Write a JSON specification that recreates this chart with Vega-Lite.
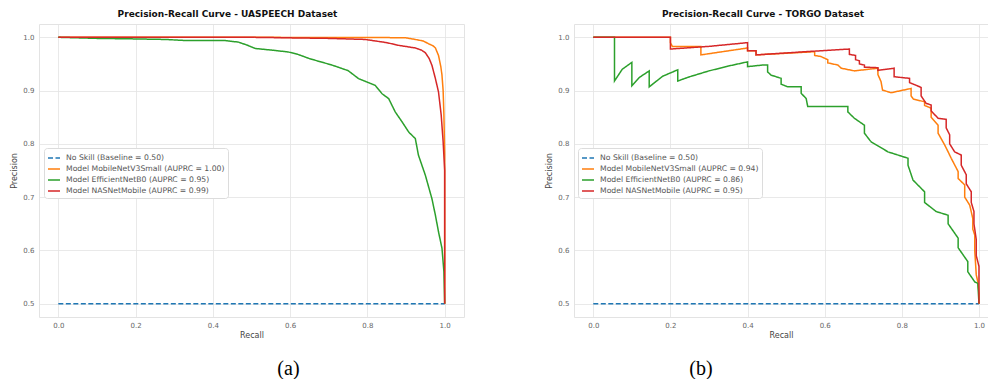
{
  "$schema": "https://vega.github.io/schema/vega-lite/v6.json",
  "background": "white",
  "padding": {"left": 10, "top": 9, "right": 0, "bottom": 0},
  "autosize": {"type": "pad"},
  "datasets": {
    "uasLab": [
      {"m": "N", "label": "No Skill (Baseline = 0.50)"},
      {"m": "M", "label": "Model MobileNetV3Small (AUPRC = 1.00)"},
      {"m": "E", "label": "Model EfficientNetB0 (AUPRC = 0.95)"},
      {"m": "A", "label": "Model NASNetMobile (AUPRC = 0.99)"}
    ],
    "torgoLab": [
      {"m": "N", "label": "No Skill (Baseline = 0.50)"},
      {"m": "M", "label": "Model MobileNetV3Small (AUPRC = 0.94)"},
      {"m": "E", "label": "Model EfficientNetB0 (AUPRC = 0.86)"},
      {"m": "A", "label": "Model NASNetMobile (AUPRC = 0.95)"}
    ],
    "uas": [
      {"m": "N", "r": 0, "p": 0.5}, {"m": "N", "r": 1, "p": 0.5},
      {"m": "M", "r": 0, "p": 1}, {"m": "M", "r": 0.5, "p": 1}, {"m": "M", "r": 0.85, "p": 0.9995}, {"m": "M", "r": 0.9, "p": 0.999}, {"m": "M", "r": 0.924, "p": 0.996}, {"m": "M", "r": 0.945, "p": 0.993}, {"m": "M", "r": 0.958, "p": 0.988}, {"m": "M", "r": 0.97, "p": 0.984}, {"m": "M", "r": 0.976, "p": 0.98}, {"m": "M", "r": 0.984, "p": 0.966}, {"m": "M", "r": 0.99, "p": 0.945}, {"m": "M", "r": 0.993, "p": 0.929}, {"m": "M", "r": 0.996, "p": 0.9}, {"m": "M", "r": 0.998, "p": 0.854}, {"m": "M", "r": 1, "p": 0.78}, {"m": "M", "r": 1, "p": 0.5},
      {"m": "E", "r": 0, "p": 1}, {"m": "E", "r": 0.05, "p": 0.999}, {"m": "E", "r": 0.1, "p": 0.998}, {"m": "E", "r": 0.2, "p": 0.997}, {"m": "E", "r": 0.276, "p": 0.996}, {"m": "E", "r": 0.33, "p": 0.994}, {"m": "E", "r": 0.43, "p": 0.994}, {"m": "E", "r": 0.466, "p": 0.991}, {"m": "E", "r": 0.49, "p": 0.985}, {"m": "E", "r": 0.51, "p": 0.979}, {"m": "E", "r": 0.552, "p": 0.976}, {"m": "E", "r": 0.595, "p": 0.9725}, {"m": "E", "r": 0.62, "p": 0.968}, {"m": "E", "r": 0.65, "p": 0.96}, {"m": "E", "r": 0.708, "p": 0.948}, {"m": "E", "r": 0.75, "p": 0.9375}, {"m": "E", "r": 0.777, "p": 0.9225}, {"m": "E", "r": 0.794, "p": 0.9175}, {"m": "E", "r": 0.82, "p": 0.91}, {"m": "E", "r": 0.838, "p": 0.894}, {"m": "E", "r": 0.855, "p": 0.885}, {"m": "E", "r": 0.872, "p": 0.86}, {"m": "E", "r": 0.89, "p": 0.841}, {"m": "E", "r": 0.907, "p": 0.822}, {"m": "E", "r": 0.924, "p": 0.81}, {"m": "E", "r": 0.932, "p": 0.779}, {"m": "E", "r": 0.95, "p": 0.741}, {"m": "E", "r": 0.967, "p": 0.697}, {"m": "E", "r": 0.976, "p": 0.666}, {"m": "E", "r": 0.984, "p": 0.635}, {"m": "E", "r": 0.993, "p": 0.604}, {"m": "E", "r": 0.998, "p": 0.56}, {"m": "E", "r": 1, "p": 0.5},
      {"m": "A", "r": 0, "p": 1}, {"m": "A", "r": 0.5, "p": 1}, {"m": "A", "r": 0.6, "p": 0.999}, {"m": "A", "r": 0.7, "p": 0.998}, {"m": "A", "r": 0.794, "p": 0.996}, {"m": "A", "r": 0.85, "p": 0.99}, {"m": "A", "r": 0.88, "p": 0.985}, {"m": "A", "r": 0.924, "p": 0.98}, {"m": "A", "r": 0.94, "p": 0.976}, {"m": "A", "r": 0.95, "p": 0.971}, {"m": "A", "r": 0.96, "p": 0.96}, {"m": "A", "r": 0.967, "p": 0.9475}, {"m": "A", "r": 0.976, "p": 0.9225}, {"m": "A", "r": 0.984, "p": 0.8975}, {"m": "A", "r": 0.991, "p": 0.854}, {"m": "A", "r": 0.996, "p": 0.804}, {"m": "A", "r": 1, "p": 0.75}, {"m": "A", "r": 1, "p": 0.5}
    ],
    "torgo": [
      {"m": "N", "r": 0, "p": 0.5}, {"m": "N", "r": 1, "p": 0.5},
      {"m": "M", "r": 0, "p": 1}, {"m": "M", "r": 0.2, "p": 1}, {"m": "M", "r": 0.2, "p": 0.99}, {"m": "M", "r": 0.205, "p": 0.983}, {"m": "M", "r": 0.279, "p": 0.983}, {"m": "M", "r": 0.279, "p": 0.967}, {"m": "M", "r": 0.4, "p": 0.98}, {"m": "M", "r": 0.4, "p": 0.975}, {"m": "M", "r": 0.422, "p": 0.975}, {"m": "M", "r": 0.422, "p": 0.967}, {"m": "M", "r": 0.574, "p": 0.973}, {"m": "M", "r": 0.574, "p": 0.966}, {"m": "M", "r": 0.59, "p": 0.964}, {"m": "M", "r": 0.608, "p": 0.958}, {"m": "M", "r": 0.608, "p": 0.952}, {"m": "M", "r": 0.634, "p": 0.948}, {"m": "M", "r": 0.643, "p": 0.942}, {"m": "M", "r": 0.677, "p": 0.937}, {"m": "M", "r": 0.738, "p": 0.942}, {"m": "M", "r": 0.738, "p": 0.93}, {"m": "M", "r": 0.746, "p": 0.917}, {"m": "M", "r": 0.75, "p": 0.901}, {"m": "M", "r": 0.772, "p": 0.896}, {"m": "M", "r": 0.824, "p": 0.904}, {"m": "M", "r": 0.824, "p": 0.89}, {"m": "M", "r": 0.83, "p": 0.884}, {"m": "M", "r": 0.859, "p": 0.879}, {"m": "M", "r": 0.859, "p": 0.872}, {"m": "M", "r": 0.876, "p": 0.867}, {"m": "M", "r": 0.876, "p": 0.85}, {"m": "M", "r": 0.894, "p": 0.835}, {"m": "M", "r": 0.894, "p": 0.82}, {"m": "M", "r": 0.911, "p": 0.798}, {"m": "M", "r": 0.92, "p": 0.785}, {"m": "M", "r": 0.928, "p": 0.773}, {"m": "M", "r": 0.946, "p": 0.748}, {"m": "M", "r": 0.946, "p": 0.735}, {"m": "M", "r": 0.963, "p": 0.723}, {"m": "M", "r": 0.963, "p": 0.7}, {"m": "M", "r": 0.976, "p": 0.685}, {"m": "M", "r": 0.984, "p": 0.66}, {"m": "M", "r": 0.984, "p": 0.64}, {"m": "M", "r": 0.989, "p": 0.629}, {"m": "M", "r": 0.989, "p": 0.6}, {"m": "M", "r": 0.993, "p": 0.554}, {"m": "M", "r": 0.997, "p": 0.541}, {"m": "M", "r": 1, "p": 0.52}, {"m": "M", "r": 1, "p": 0.5},
      {"m": "E", "r": 0, "p": 1}, {"m": "E", "r": 0.055, "p": 1}, {"m": "E", "r": 0.055, "p": 0.918}, {"m": "E", "r": 0.075, "p": 0.94}, {"m": "E", "r": 0.1, "p": 0.953}, {"m": "E", "r": 0.1, "p": 0.909}, {"m": "E", "r": 0.12, "p": 0.925}, {"m": "E", "r": 0.145, "p": 0.937}, {"m": "E", "r": 0.145, "p": 0.907}, {"m": "E", "r": 0.18, "p": 0.927}, {"m": "E", "r": 0.219, "p": 0.939}, {"m": "E", "r": 0.219, "p": 0.918}, {"m": "E", "r": 0.25, "p": 0.926}, {"m": "E", "r": 0.3, "p": 0.937}, {"m": "E", "r": 0.35, "p": 0.946}, {"m": "E", "r": 0.4, "p": 0.954}, {"m": "E", "r": 0.4, "p": 0.945}, {"m": "E", "r": 0.44, "p": 0.948}, {"m": "E", "r": 0.452, "p": 0.948}, {"m": "E", "r": 0.452, "p": 0.935}, {"m": "E", "r": 0.461, "p": 0.929}, {"m": "E", "r": 0.487, "p": 0.923}, {"m": "E", "r": 0.487, "p": 0.912}, {"m": "E", "r": 0.504, "p": 0.907}, {"m": "E", "r": 0.539, "p": 0.907}, {"m": "E", "r": 0.539, "p": 0.895}, {"m": "E", "r": 0.552, "p": 0.885}, {"m": "E", "r": 0.556, "p": 0.87}, {"m": "E", "r": 0.608, "p": 0.87}, {"m": "E", "r": 0.66, "p": 0.87}, {"m": "E", "r": 0.66, "p": 0.86}, {"m": "E", "r": 0.677, "p": 0.848}, {"m": "E", "r": 0.703, "p": 0.835}, {"m": "E", "r": 0.703, "p": 0.82}, {"m": "E", "r": 0.72, "p": 0.804}, {"m": "E", "r": 0.764, "p": 0.785}, {"m": "E", "r": 0.816, "p": 0.773}, {"m": "E", "r": 0.816, "p": 0.76}, {"m": "E", "r": 0.829, "p": 0.732}, {"m": "E", "r": 0.859, "p": 0.71}, {"m": "E", "r": 0.859, "p": 0.69}, {"m": "E", "r": 0.889, "p": 0.673}, {"m": "E", "r": 0.92, "p": 0.666}, {"m": "E", "r": 0.92, "p": 0.65}, {"m": "E", "r": 0.946, "p": 0.623}, {"m": "E", "r": 0.946, "p": 0.605}, {"m": "E", "r": 0.971, "p": 0.579}, {"m": "E", "r": 0.971, "p": 0.56}, {"m": "E", "r": 0.989, "p": 0.541}, {"m": "E", "r": 0.997, "p": 0.538}, {"m": "E", "r": 1, "p": 0.5},
      {"m": "A", "r": 0, "p": 1}, {"m": "A", "r": 0.2, "p": 1}, {"m": "A", "r": 0.2, "p": 0.978}, {"m": "A", "r": 0.3, "p": 0.983}, {"m": "A", "r": 0.4, "p": 0.99}, {"m": "A", "r": 0.4, "p": 0.975}, {"m": "A", "r": 0.422, "p": 0.975}, {"m": "A", "r": 0.422, "p": 0.967}, {"m": "A", "r": 0.55, "p": 0.973}, {"m": "A", "r": 0.664, "p": 0.978}, {"m": "A", "r": 0.664, "p": 0.968}, {"m": "A", "r": 0.68, "p": 0.966}, {"m": "A", "r": 0.68, "p": 0.958}, {"m": "A", "r": 0.69, "p": 0.956}, {"m": "A", "r": 0.69, "p": 0.95}, {"m": "A", "r": 0.703, "p": 0.948}, {"m": "A", "r": 0.703, "p": 0.944}, {"m": "A", "r": 0.738, "p": 0.943}, {"m": "A", "r": 0.738, "p": 0.938}, {"m": "A", "r": 0.78, "p": 0.942}, {"m": "A", "r": 0.78, "p": 0.926}, {"m": "A", "r": 0.82, "p": 0.923}, {"m": "A", "r": 0.82, "p": 0.915}, {"m": "A", "r": 0.85, "p": 0.906}, {"m": "A", "r": 0.85, "p": 0.89}, {"m": "A", "r": 0.863, "p": 0.876}, {"m": "A", "r": 0.876, "p": 0.873}, {"m": "A", "r": 0.876, "p": 0.862}, {"m": "A", "r": 0.894, "p": 0.848}, {"m": "A", "r": 0.915, "p": 0.846}, {"m": "A", "r": 0.915, "p": 0.83}, {"m": "A", "r": 0.924, "p": 0.817}, {"m": "A", "r": 0.924, "p": 0.8}, {"m": "A", "r": 0.937, "p": 0.785}, {"m": "A", "r": 0.954, "p": 0.779}, {"m": "A", "r": 0.954, "p": 0.76}, {"m": "A", "r": 0.967, "p": 0.742}, {"m": "A", "r": 0.967, "p": 0.725}, {"m": "A", "r": 0.98, "p": 0.71}, {"m": "A", "r": 0.98, "p": 0.69}, {"m": "A", "r": 0.987, "p": 0.673}, {"m": "A", "r": 0.987, "p": 0.65}, {"m": "A", "r": 0.993, "p": 0.62}, {"m": "A", "r": 0.993, "p": 0.59}, {"m": "A", "r": 1, "p": 0.57}, {"m": "A", "r": 1, "p": 0.5}
    ]
  },
  "hconcat": [
    {
      "title": {"text": "(a)", "orient": "bottom", "anchor": "middle", "dx": 51, "offset": 19, "font": "Liberation Serif", "fontSize": 20, "fontWeight": "normal", "color": "black"},
      "vconcat": [
        {
          "title": {"text": "Precision-Recall Curve - UASPEECH Dataset", "dx": -24},
          "width": 425,
          "height": 293,
          "data": {"name": "uas"},
          "transform": [{"lookup": "m", "from": {"data": {"name": "uasLab"}, "key": "m", "fields": ["label"]}}],
          "mark": {"type": "line", "strokeWidth": 1.5, "clip": true},
          "encoding": {
            "x": {"field": "r", "type": "quantitative", "title": "Recall", "scale": {"domain": [-0.05, 1.05], "nice": false, "zero": false}, "axis": {"values": [0, 0.2, 0.4, 0.6, 0.8, 1.0], "format": ".1f"}},
            "y": {"field": "p", "type": "quantitative", "title": "Precision", "scale": {"domain": [0.475, 1.025], "nice": false, "zero": false}, "axis": {"values": [0.5, 0.6, 0.7, 0.8, 0.9, 1.0], "format": ".1f"}},
            "color": {"field": "label", "type": "nominal", "scale": {"domain": ["No Skill (Baseline = 0.50)", "Model MobileNetV3Small (AUPRC = 1.00)", "Model EfficientNetB0 (AUPRC = 0.95)", "Model NASNetMobile (AUPRC = 0.99)"], "range": ["#1f77b4", "#ff7f0e", "#2ca02c", "#d62728"]}, "legend": {"title": null, "orient": "none", "legendX": 5, "legendY": 124}},
            "strokeDash": {"field": "label", "type": "nominal", "scale": {"domain": ["No Skill (Baseline = 0.50)", "Model MobileNetV3Small (AUPRC = 1.00)", "Model EfficientNetB0 (AUPRC = 0.95)", "Model NASNetMobile (AUPRC = 0.99)"], "range": [[5, 2.5], [1, 0], [1, 0], [1, 0]]}, "legend": {"title": null, "orient": "none", "legendX": 5, "legendY": 124}},
            "order": {"value": null}
          }
        }
      ]
    },
    {
      "title": {"text": "(b)", "orient": "bottom", "anchor": "middle", "dx": -66, "offset": 19, "font": "Liberation Serif", "fontSize": 20, "fontWeight": "normal", "color": "black"},
      "vconcat": [
        {
          "title": {"text": "Precision-Recall Curve - TORGO Dataset", "dx": -18},
          "width": 414,
          "height": 293,
          "data": {"name": "torgo"},
          "transform": [{"lookup": "m", "from": {"data": {"name": "torgoLab"}, "key": "m", "fields": ["label"]}}],
          "mark": {"type": "line", "strokeWidth": 1.5, "clip": true},
          "encoding": {
            "x": {"field": "r", "type": "quantitative", "title": "Recall", "scale": {"domain": [-0.05, 1.0234], "nice": false, "zero": false}, "axis": {"values": [0, 0.2, 0.4, 0.6, 0.8, 1.0], "format": ".1f"}},
            "y": {"field": "p", "type": "quantitative", "title": "Precision", "scale": {"domain": [0.475, 1.025], "nice": false, "zero": false}, "axis": {"values": [0.5, 0.6, 0.7, 0.8, 0.9, 1.0], "format": ".1f"}},
            "color": {"field": "label", "type": "nominal", "scale": {"domain": ["No Skill (Baseline = 0.50)", "Model MobileNetV3Small (AUPRC = 0.94)", "Model EfficientNetB0 (AUPRC = 0.86)", "Model NASNetMobile (AUPRC = 0.95)"], "range": ["#1f77b4", "#ff7f0e", "#2ca02c", "#d62728"]}, "legend": {"title": null, "orient": "none", "legendX": 4, "legendY": 124}},
            "strokeDash": {"field": "label", "type": "nominal", "scale": {"domain": ["No Skill (Baseline = 0.50)", "Model MobileNetV3Small (AUPRC = 0.94)", "Model EfficientNetB0 (AUPRC = 0.86)", "Model NASNetMobile (AUPRC = 0.95)"], "range": [[5, 2.5], [1, 0], [1, 0], [1, 0]]}, "legend": {"title": null, "orient": "none", "legendX": 4, "legendY": 124}},
            "order": {"value": null}
          }
        }
      ]
    }
  ],
  "spacing": 80,
  "resolve": {"scale": {"color": "independent", "strokeDash": "independent", "x": "independent", "y": "independent"}},
  "config": {
    "font": "DejaVu Sans",
    "view": {"stroke": "#e3e3e3", "strokeWidth": 1},
    "title": {"fontSize": 9, "fontWeight": "bold", "color": "#111", "offset": 5, "anchor": "middle"},
    "axis": {"grid": true, "gridColor": "#e3e3e3", "gridWidth": 0.8, "domain": false, "ticks": false, "labelFontSize": 7, "labelColor": "#666", "labelPadding": 5, "titleFontSize": 8, "titleFontWeight": "normal", "titleColor": "#444", "titlePadding": 4},
    "axisX": {"labelPadding": 4, "titlePadding": 3},
    "legend": {"symbolType": "stroke", "symbolSize": 144, "symbolStrokeWidth": 1.5, "labelFontSize": 7.7, "labelColor": "#555", "fillColor": "white", "strokeColor": "#dcdcdc", "cornerRadius": 3, "padding": 3, "rowPadding": 0, "labelOffset": 5, "labelLimit": 300}
  }
}
